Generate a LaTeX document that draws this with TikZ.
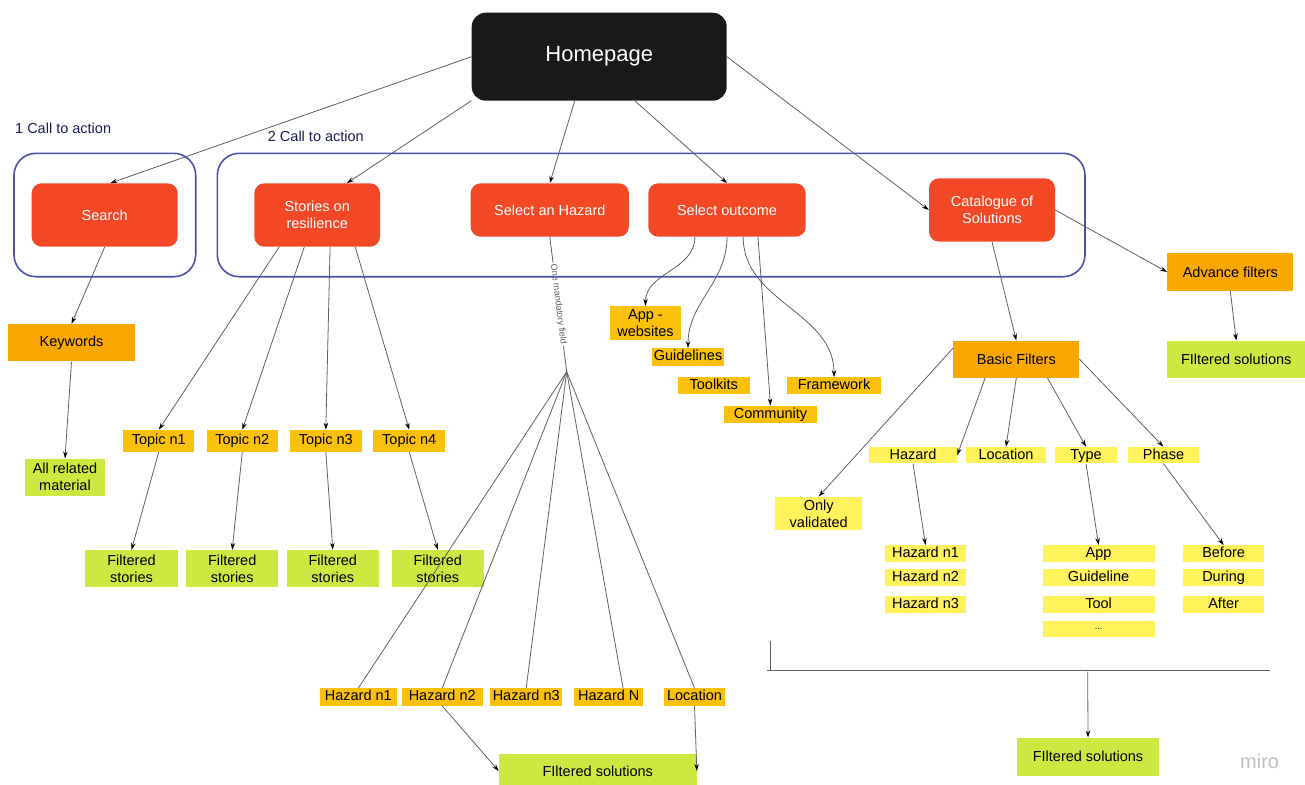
\documentclass[tikz,border=0pt]{standalone}
\usepackage{fontspec}
\setmainfont{Liberation Sans}
\usepackage{tikz}
\usetikzlibrary{arrows.meta, positioning}
\usepackage{xcolor}
\definecolor{miroRed}{RGB}{242, 72, 38}
\definecolor{miroBlue}{RGB}{75, 80, 170}
\definecolor{miroOrange}{RGB}{250, 168, 0}
\definecolor{miroGold}{RGB}{250, 192, 10}
\definecolor{miroPale}{RGB}{255, 242, 90}
\definecolor{miroGreen}{RGB}{206, 231, 65}
\definecolor{miroNavy}{RGB}{25, 30, 80}
\definecolor{linkgray}{RGB}{95, 95, 95}
\tikzstyle{homebox} = [rectangle, rounded corners=14pt, fill=black!90, text=white, font=\fontsize{22}{26}\selectfont]
\tikzstyle{redbox} = [rectangle, rounded corners=10pt, fill=miroRed, text=white, align=center, inner sep=0pt, font=\fontsize{14.5}{17}\selectfont]
\tikzstyle{orangebox} = [rectangle, fill=miroOrange, align=center, inner sep=0pt, font=\fontsize{14.5}{17}\selectfont]
\tikzstyle{tagbox} = [rectangle, fill=miroGold, align=center, inner sep=0pt, text height=10.4pt, text depth=2.6pt, font=\fontsize{14.5}{17}\selectfont]
\tikzstyle{palebox} = [rectangle, fill=miroPale, align=center, inner sep=0pt, text height=10.4pt, text depth=2.6pt, font=\fontsize{14.5}{17}\selectfont]
\tikzstyle{greenbox} = [rectangle, fill=miroGreen, align=center, inner sep=0pt, font=\fontsize{14.5}{17}\selectfont]
\tikzstyle{twolines} = [text height=, text depth=]
\tikzstyle{group} = [rectangle, draw=miroBlue, line width=1.6pt, rounded corners=22pt]
\tikzstyle{calllabel} = [anchor=west, text=miroNavy, inner sep=0pt, font=\fontsize{14.5}{17}\selectfont]
\tikzstyle{link} = [->, >={Stealth[length=7pt,width=4.5pt,black]}, line width=0.8pt, linkgray]
\tikzstyle{plain} = [line width=0.8pt, linkgray]

\begin{document}
\begin{tikzpicture}[x=1pt, y=1pt]
\useasboundingbox (0,0) rectangle (1305,-784);

% Top
\node[homebox, minimum width=255pt, minimum height=88pt] (home) at (599.2,-56.7) {Homepage};
\node[calllabel] (cta1label) at (15,-128.3) {1 Call to action};
\node[calllabel] (cta2label) at (267.7,-136) {2 Call to action};

% Calls to action
\node[redbox, minimum width=146pt, minimum height=63.4pt] (search) at (104.7,-215) {Search};
\node[redbox, minimum width=125.7pt, minimum height=63.4pt] (stories) at (317.2,-215) {Stories on\\resilience};
\node[redbox, minimum width=158.3pt, minimum height=53.4pt] (selhaz) at (549.8,-210) {Select an Hazard};
\node[redbox, minimum width=157.4pt, minimum height=53.4pt] (outcome) at (727,-210) {Select outcome};
\node[redbox, minimum width=126pt, minimum height=63.4pt] (catalogue) at (992,-210) {Catalogue of\\Solutions};

% Search branch
\node[orangebox, minimum width=126.4pt, minimum height=37.3pt] (keywords) at (71.5,-342.7) {Keywords};
\node[greenbox, minimum width=80.6pt, minimum height=37pt] (allrel) at (65,-477.2) {All related\\material};

% Stories branch
\node[tagbox, minimum width=71pt, minimum height=21.7pt] (topic1) at (158.8,-440.8) {Topic n1};
\node[tagbox, minimum width=71.3pt, minimum height=21.7pt] (topic2) at (242.3,-440.8) {Topic n2};
\node[tagbox, minimum width=71.7pt, minimum height=21.7pt] (topic3) at (325.8,-440.8) {Topic n3};
\node[tagbox, minimum width=71.7pt, minimum height=21.7pt] (topic4) at (409.2,-440.8) {Topic n4};
\node[greenbox, minimum width=92.4pt, minimum height=37pt] (fst1) at (131.5,-568.5) {Filtered\\stories};
\node[greenbox, minimum width=92.3pt, minimum height=37pt] (fst2) at (232.2,-568.5) {Filtered\\stories};
\node[greenbox, minimum width=92.3pt, minimum height=37pt] (fst3) at (332.8,-568.5) {Filtered\\stories};
\node[greenbox, minimum width=92.3pt, minimum height=37pt] (fst4) at (437.8,-568.5) {Filtered\\stories};

% Hazard branch
\coordinate (fan) at (566.7,-371.7);
\node[tagbox, minimum width=76.7pt, minimum height=17.4pt] (hz1) at (358.3,-697) {Hazard n1};
\node[tagbox, minimum width=81pt, minimum height=17.4pt] (hz2) at (442.2,-697) {Hazard n2};
\node[tagbox, minimum width=72.3pt, minimum height=17.4pt] (hz3) at (526.2,-697) {Hazard n3};
\node[tagbox, minimum width=69pt, minimum height=17.4pt] (hzN) at (608.8,-697) {Hazard N};
\node[tagbox, minimum width=61pt, minimum height=17.4pt] (hzloc) at (694.5,-697) {Location};
\node[greenbox, minimum width=197.7pt, minimum height=34pt] (fsolB) at (597.8,-771) {FIltered solutions};

% Outcome branch
\node[tagbox, twolines, minimum width=71pt, minimum height=34pt] (appweb) at (645.5,-323) {App -\\websites};
\node[tagbox, minimum width=72pt, minimum height=17.4pt] (guide) at (688,-357) {Guidelines};
\node[tagbox, minimum width=72.3pt, minimum height=17pt] (toolk) at (713.8,-385.8) {Toolkits};
\node[tagbox, minimum width=93.4pt, minimum height=17pt] (frame) at (834,-385.8) {Framework};
\node[tagbox, minimum width=93pt, minimum height=17pt] (commu) at (770.5,-414.2) {Community};

% Catalogue branch
\node[orangebox, minimum width=126pt, minimum height=37.4pt] (advance) at (1230.3,-272) {Advance filters};
\node[greenbox, minimum width=137.7pt, minimum height=37pt] (fsolA) at (1236.2,-359.2) {FIltered solutions};
\node[orangebox, minimum width=126pt, minimum height=37pt] (basic) at (1016.3,-359.2) {Basic Filters};
\node[palebox, twolines, minimum width=87.5pt, minimum height=33.7pt] (onlyval) at (818.7,-513.6) {Only\\validated};
\node[palebox, minimum width=88pt, minimum height=16.5pt] (fhaz) at (913,-455.2) {Hazard};
\node[palebox, minimum width=80pt, minimum height=16.5pt] (floc) at (1006,-455.2) {Location};
\node[palebox, minimum width=62.4pt, minimum height=16.5pt] (ftype) at (1086,-455.2) {Type};
\node[palebox, minimum width=71pt, minimum height=16.5pt] (fphase) at (1163.5,-455.2) {Phase};
\node[palebox, minimum width=81pt, minimum height=16.5pt] (fhz1) at (925.5,-553.5) {Hazard n1};
\node[palebox, minimum width=81pt, minimum height=16.5pt, below=7.2pt of fhz1] (fhz2) {Hazard n2};
\node[palebox, minimum width=81pt, minimum height=16.5pt, below=10.2pt of fhz2] (fhz3) {Hazard n3};
\node[palebox, minimum width=112.2pt, minimum height=16.5pt] (tapp) at (1098.6,-553.5) {App};
\node[palebox, minimum width=112.2pt, minimum height=16.5pt, below=7.2pt of tapp] (tguide) {Guideline};
\node[palebox, minimum width=112.2pt, minimum height=16.5pt, below=10.2pt of tguide] (ttool) {Tool};
\node[palebox, twolines, minimum width=112.2pt, minimum height=16.5pt, below=7.3pt of ttool, font=\fontsize{9}{10}\selectfont] (tmore) {...};
\node[palebox, minimum width=80.4pt, minimum height=16.5pt] (pbefore) at (1223.6,-553.5) {Before};
\node[palebox, minimum width=80.4pt, minimum height=16.5pt, below=7.2pt of pbefore] (pduring) {During};
\node[palebox, minimum width=80.4pt, minimum height=16.5pt, below=10.2pt of pduring] (pafter) {After};
\node[greenbox, minimum width=142.6pt, minimum height=38pt] (fsolC) at (1088,-756.7) {FIltered solutions};

% Arrows from the homepage
\draw[link] (home.west) -- (search.80);
\draw[link] (home.199) -- (stories.47);
\draw[link] (home.241) -- (selhaz.north);
\draw[link] (home.309) -- (outcome.north);
\draw[link] (home.east) -- (catalogue.west);

% Search and stories
\draw[link] (search.south) -- (keywords.north);
\draw[link] (keywords.south) -- (allrel.north);
\foreach \a/\t in {220/topic1, 248/topic2, 292/topic3, 320/topic4}
    \draw[link] (stories.\a) -- (\t.north);
\foreach \i in {1,...,4}
    \draw[link] (topic\i.south) -- (fst\i.north);

% Hazard fan
\draw[plain] (selhaz.south) -- node[sloped, fill=white, inner sep=1.5pt, font=\fontsize{9}{10}\selectfont] {One mandatory field} (fan);
\foreach \h in {hz1, hz2, hz3, hzloc}
    \draw[plain] (fan) -- (\h.north);
\draw[plain] (fan) -- (hzN.32);
\draw[link] (hz2.south) -- (fsolB.west);
\draw[link] (hzloc.south) -- (fsolB.east);

% Outcomes
\draw[link] (outcome.220) to[out=-90, in=90] (appweb.north);
\draw[link] (outcome.south) to[out=-90, in=90] (guide.north);
\draw[link] (outcome.301) to[out=-90, in=90] (frame.north);
\draw[link] (outcome.319) -- (commu.north);

% Catalogue and filters
\draw[link] (catalogue.east) -- (advance.west);
\draw[link] (catalogue.south) -- (basic.north);
\draw[link] (advance.south) -- (fsolA.north);
\draw[link] (basic.170) -- (onlyval.north);
\draw[link] (basic.211) -- (fhaz.east);
\draw[link] (basic.south) -- (floc.north);
\draw[link] (basic.329) -- (ftype.north);
\draw[link] (basic.east) -- (fphase.north);
\draw[link] (fhaz.south) -- (fhz1.north);
\draw[link] (ftype.south) -- (tapp.north);
\draw[link] (fphase.south) -- (pbefore.north);

% Bracket collecting the filters
\coordinate (brtop) at (770.7,-640.7);
\coordinate (brleft) at (767,-670);
\coordinate (brright) at (1270,-670);
\coordinate (brdrop) at (1087.7,-671.7);
\draw[plain] (brtop) -- (brtop |- brleft);
\draw[plain] (brleft) -- (brright);
\draw[link] (brdrop) -- (fsolC.north);

% Call-to-action frames
\node[group, minimum width=181.7pt, minimum height=123.4pt] (cta1) at (104.85,-215) {};
\node[group, minimum width=867.7pt, minimum height=123.4pt] (cta2) at (651.15,-215) {};

\node[text=black!25, font=\fontsize{20}{24}\selectfont] (miro) at (1259.6,-761) {miro};
\end{tikzpicture}
\end{document}
